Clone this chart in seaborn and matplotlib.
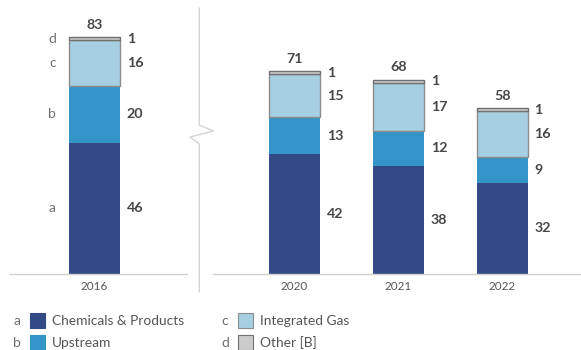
import numpy as np
import pandas as pd
import matplotlib
matplotlib.use("Agg")
import matplotlib.pyplot as plt
from matplotlib.lines import Line2D
from matplotlib.patches import Rectangle
import seaborn as sns

# Data (billions)
years_left = ["2016"]
years_right = ["2020", "2021", "2022"]
segment_keys = ["a", "b", "c", "d"]
segment_names = ["Chemicals & Products", "Upstream", "Integrated Gas", "Other [B]"]
chemicals = [46, 42, 38, 32]
upstream = [20, 13, 12, 9]
integrated_gas = [16, 15, 17, 16]
other = [1, 1, 1, 1]
totals = [83, 71, 68, 58]

colors = ["#324b87", "#3395c7", "#a7cfe2", "#cbcbcb"]
edge_colors = ["#324b87", "#3395c7", "#8c8c8c", "#707070"]
edge_widths = [0, 0, 1.0, 1.0]

sns.set_style("white")
plt.rcParams["font.family"] = ["Lato", "DejaVu Sans"]

years = years_left + years_right
series = [chemicals, upstream, integrated_gas, other]
rows = []
for key, name, vals in zip(segment_keys, segment_names, series):
    for i, y in enumerate(years):
        bottom = sum(s[i] for s in series[:segment_keys.index(key)])
        rows.append({"year": y, "segment": key, "value": vals[i], "bottom": bottom})
df = pd.DataFrame(rows)
total_map = dict(zip(years, totals))

W, H = 581, 350
fig = plt.figure(figsize=(W / 100, H / 100), dpi=100)

def fx(px):
    return px / W

def fy(py):
    return 1 - py / H

base_px, top_px = 274, 8
ymax = 93.2
ax_left = fig.add_axes([fx(10), fy(base_px), fx(177), (base_px - top_px) / H])
ax_right = fig.add_axes([fx(213), fy(base_px), fx(368), (base_px - top_px) / H])

num_color = "#474747"
letter_color = "#6e6e6e"

def draw_panel(ax, panel_years, width, xlim, letters=False):
    for k, key in enumerate(segment_keys):
        sub = df[(df.segment == key) & (df.year.isin(panel_years))]
        sub = sub.set_index("year").loc[panel_years].reset_index()
        sns.barplot(data=sub, x="year", y="value", order=panel_years,
                    bottom=sub["bottom"].values, color=colors[k], saturation=1,
                    width=width, errorbar=None, ax=ax,
                    edgecolor=edge_colors[k], linewidth=edge_widths[k])
    ax.set_xlim(*xlim)
    ax.set_ylim(0, ymax)
    ax.set_xlabel("")
    ax.set_ylabel("")
    ax.set_yticks([])
    for side in ["top", "left", "right"]:
        ax.spines[side].set_visible(False)
    ax.spines["bottom"].set_color("#cfcfcf")
    ax.spines["bottom"].set_linewidth(1)
    ax.tick_params(axis="x", length=0, pad=5, labelsize=8.5, labelcolor="#585858")

    for i, y in enumerate(panel_years):
        sub = df[df.year == y]
        for k, key in enumerate(segment_keys):
            r = sub[sub.segment == key].iloc[0]
            mid = r["bottom"] + r["value"] / 2
            ax.annotate(f"{r['value']}", xy=(i + width / 2, mid),
                        xytext=(5, 0), textcoords="offset points",
                        ha="left", va="center", fontsize=10.3, fontweight="bold",
                        color=num_color)
            if letters:
                ax.annotate(key, xy=(i - width / 2, mid),
                            xytext=(-12, 0), textcoords="offset points",
                            ha="center", va="center", fontsize=10,
                            color=letter_color)
        ax.annotate(f"{total_map[y]}", xy=(i, total_map[y]),
                    xytext=(0, 9), textcoords="offset points",
                    ha="center", va="center", fontsize=10.3, fontweight="bold",
                    color=num_color)

draw_panel(ax_left, years_left, 51 / 177, (-0.477, 0.523), letters=True)
draw_panel(ax_right, years_right, 51 / 103.75, (-0.786, 2.76))

# axis break marker between the panels
bx = [199.3, 199.3, 213.3, 190.0, 199.3, 199.3]
by = [8, 125, 131, 137, 144, 292]
fig.add_artist(Line2D([fx(x) for x in bx], [fy(y) for y in by],
                      transform=fig.transFigure, color="#d4d4d4", lw=1))

# legend
legend_items = [
    (17, 321, "a", 0), (17, 343, "b", 1),
    (225, 321, "c", 2), (225, 343, "d", 3),
]
for lx, ly, key, k in legend_items:
    fig.text(fx(lx), fy(ly), key, ha="center", va="center", fontsize=10,
             color=letter_color)
    fig.add_artist(Rectangle((fx(lx + 13), fy(ly + 7)), fx(15), 15 / H,
                             transform=fig.transFigure, facecolor=colors[k],
                             edgecolor=edge_colors[k] if edge_widths[k] else colors[k],
                             lw=0.8))
    fig.text(fx(lx + 35), fy(ly), segment_names[k], ha="left", va="center",
             fontsize=9.9, color="#555555")

fig.savefig("out.png", dpi=100)
